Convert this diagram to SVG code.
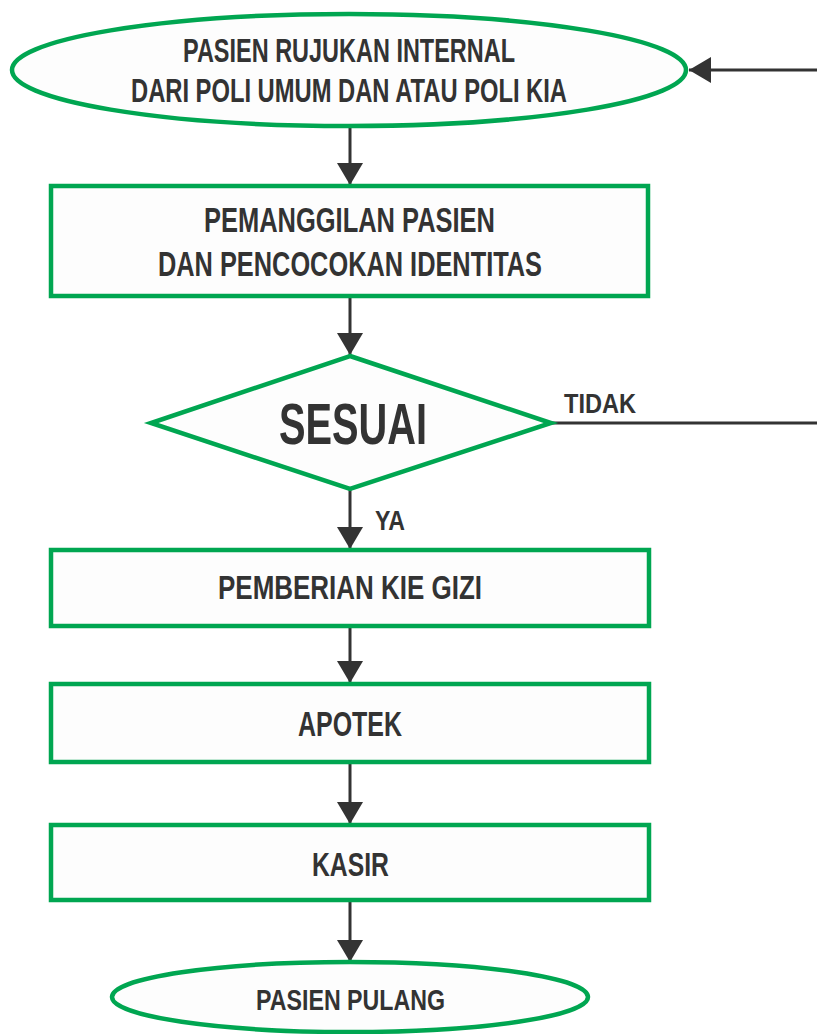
<svg xmlns="http://www.w3.org/2000/svg" width="817" height="1034" viewBox="0 0 817 1034">
<style>
.shape{fill:#fdfdfd;stroke:#00a651;stroke-width:4.5}
.t{font-family:"Liberation Sans Narrow","Liberation Sans",Arial,sans-serif;font-weight:bold;fill:#333333}
.c{stroke:#333333;stroke-width:3;fill:none}
</style>
<defs>
<marker id="ah" markerUnits="userSpaceOnUse" markerWidth="24" markerHeight="28" viewBox="0 0 24 28" refX="22" refY="14" orient="auto">
<path d="M0,1 L22,14 L0,27 Z" fill="#333333"/>
</marker>
</defs>
<rect width="817" height="1034" fill="#ffffff"/>
<g id="connectors">
<line class="c" x1="350" y1="127" x2="350" y2="185" marker-end="url(#ah)"/>
<line class="c" x1="350" y1="297" x2="350" y2="355" marker-end="url(#ah)"/>
<line class="c" x1="350" y1="490" x2="350" y2="549" marker-end="url(#ah)"/>
<line class="c" x1="350" y1="627" x2="350" y2="683" marker-end="url(#ah)"/>
<line class="c" x1="350" y1="763" x2="350" y2="824" marker-end="url(#ah)"/>
<line class="c" x1="350" y1="901" x2="350" y2="962" marker-end="url(#ah)"/>
<polyline class="c" points="552,423 817,423"/>
<line class="c" x1="817" y1="70" x2="689" y2="70" marker-end="url(#ah)"/>
<text class="t" x="564" y="413" font-size="28" textLength="72" lengthAdjust="spacingAndGlyphs">TIDAK</text>
<text class="t" x="375" y="530" font-size="28" textLength="30" lengthAdjust="spacingAndGlyphs">YA</text>
</g>
<g id="start">
<ellipse class="shape" cx="349" cy="70" rx="337" ry="56"/>
<text class="t" x="183" y="62" font-size="33" textLength="332" lengthAdjust="spacingAndGlyphs">PASIEN RUJUKAN INTERNAL</text>
<text class="t" x="131" y="102" font-size="33" textLength="436" lengthAdjust="spacingAndGlyphs">DARI POLI UMUM DAN ATAU POLI KIA</text>
</g>
<g id="pemanggilan">
<rect class="shape" x="51" y="186" width="597" height="110"/>
<text class="t" x="204" y="232" font-size="35" textLength="291" lengthAdjust="spacingAndGlyphs">PEMANGGILAN PASIEN</text>
<text class="t" x="158" y="276" font-size="35" textLength="384" lengthAdjust="spacingAndGlyphs">DAN PENCOCOKAN IDENTITAS</text>
</g>
<g id="sesuai">
<polygon class="shape" points="350,356 551,423 350,489 151,423"/>
<text class="t" x="279" y="444" font-size="58" textLength="148" lengthAdjust="spacingAndGlyphs">SESUAI</text>
</g>
<g id="kie">
<rect class="shape" x="51" y="550" width="598" height="76"/>
<text class="t" x="218" y="599" font-size="34" textLength="264" lengthAdjust="spacingAndGlyphs">PEMBERIAN KIE GIZI</text>
</g>
<g id="apotek">
<rect class="shape" x="51" y="684" width="598" height="78"/>
<text class="t" x="298" y="736" font-size="35" textLength="104" lengthAdjust="spacingAndGlyphs">APOTEK</text>
</g>
<g id="kasir">
<rect class="shape" x="51" y="825" width="598" height="75"/>
<text class="t" x="312" y="876" font-size="34" textLength="77" lengthAdjust="spacingAndGlyphs">KASIR</text>
</g>
<g id="pulang">
<ellipse class="shape" cx="350" cy="997" rx="238" ry="35"/>
<text class="t" x="256" y="1010" font-size="30" textLength="189" lengthAdjust="spacingAndGlyphs">PASIEN PULANG</text>
</g>
</svg>
